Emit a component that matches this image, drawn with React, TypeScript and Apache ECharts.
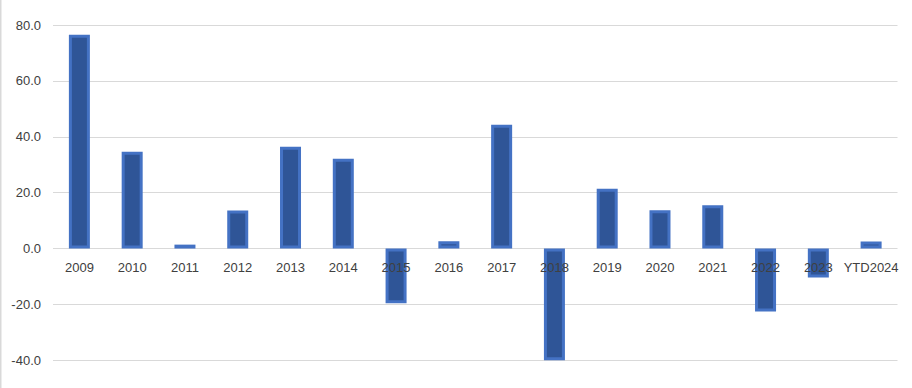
import React, { useEffect, useRef } from "react";
import * as echarts from "echarts";

const categories = ["2009", "2010", "2011", "2012", "2013", "2014", "2015", "2016", "2017", "2018", "2019", "2020", "2021", "2022", "2023", "YTD2024"];
const values = [76.5, 34.6, 1.4, 13.6, 36.4, 32.1, -19.6, 2.6, 44.3, -40.0, 21.4, 13.7, 15.5, -22.5, -10.4, 2.5];
const yMin = -40;
const yMax = 80;
const yStep = 20;

const gridTop = 25;
const gridBottom = 27.7;
const chartHeight = 388;

export default function App() {
  const ref = useRef<HTMLDivElement>(null);
  useEffect(() => {
    if (!ref.current) return;
    const chart = echarts.init(ref.current, undefined, { renderer: "svg" });
    const plotH = chartHeight - gridTop - gridBottom;
    const zeroOffset = -plotH * (0 - yMin) / (yMax - yMin);
    chart.setOption({
      animation: false,
      backgroundColor: "#ffffff",
      textStyle: { fontFamily: "Liberation Sans" },
      grid: { left: 53, right: 14.5, top: gridTop, bottom: gridBottom, containLabel: false },
      graphic: [
        { type: "rect", left: 0, top: 0, shape: { width: 1.5, height: 388 }, style: { fill: "#d9d9d9" }, silent: true },
      ],
      xAxis: {
        type: "category",
        data: categories,
        position: "bottom",
        offset: zeroOffset,
        axisLine: { show: false, onZero: false },
        axisTick: { show: false },
        axisLabel: { color: "#404040", fontSize: 13, margin: 12, interval: 0, fontFamily: "Liberation Sans" },
        z: 10,
      },
      yAxis: {
        type: "value",
        min: yMin,
        max: yMax,
        interval: yStep,
        axisLine: { show: false },
        axisTick: { show: false },
        splitLine: { lineStyle: { color: "#d9d9d9", width: 1 } },
        axisLabel: {
          color: "#404040",
          fontSize: 13,
          margin: 12,
          fontFamily: "Liberation Sans",
          formatter: (v: number) => v.toFixed(1),
        },
      },
      series: [
        {
          type: "bar",
          data: values,
          barWidth: 21,
          z: 2,
          itemStyle: { color: "#2f5597", borderColor: "#4472c4", borderWidth: 3 },
        },
      ],
    });
    return () => chart.dispose();
  }, []);
  return <div ref={ref} style={{ position: "fixed", left: 0, top: 0, width: 912, height: 388 }} />;
}
